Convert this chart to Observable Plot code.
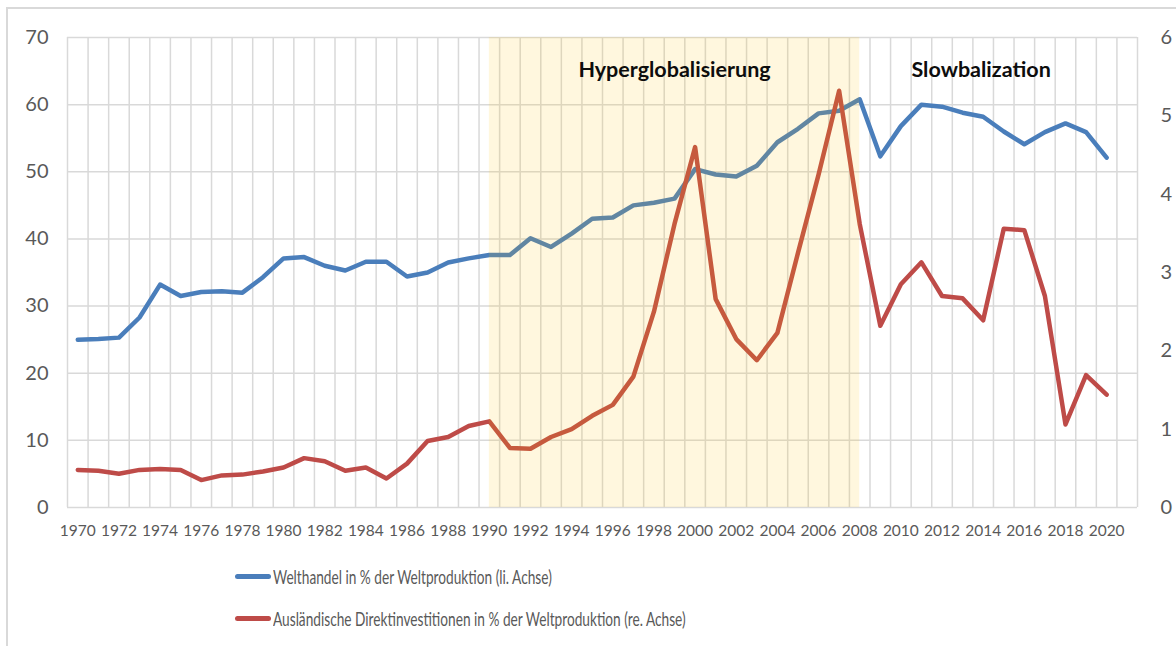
<!DOCTYPE html>
<html>
<head>
<meta charset="utf-8">
<script src="https://cdn.jsdelivr.net/npm/d3@7"></script>
<script src="https://cdn.jsdelivr.net/npm/@observablehq/plot@0.6"></script>
<style>
  html, body { margin: 0; padding: 0; background: #fff; }
  body { width: 1176px; height: 646px; position: relative; overflow: hidden; font-family: Lato, "Open Sans", sans-serif; }
  #frame { position: absolute; left: 6px; top: 7px; width: 1200px; height: 700px; border: 2px solid #d9d9d9; box-sizing: border-box; }
  #chart { position: absolute; left: 0; top: 0; }
  .legend { position: absolute; left: 235px; font-family: Lato, "Liberation Sans", sans-serif; font-size: 19px; color: #595959; display: flex; align-items: center; white-space: nowrap; }
  .legend .sw { width: 36px; height: 5px; border-radius: 3px; margin-right: 2px; flex: none; }
  .legend .tx { display: inline-block; transform: scaleX(0.72); transform-origin: left center; }
</style>
</head>
<body>
<div id="frame"></div>
<div id="chart"></div>
<div class="legend" style="top:565px"><span class="sw" style="background:#4a7ebb"></span><span class="tx">Welthandel in % der Weltproduktion (li. Achse)</span></div>
<div class="legend" style="top:607px"><span class="sw" style="background:#be4b48"></span><span class="tx">Ausländische Direktinvestitionen in % der Weltproduktion (re. Achse)</span></div>
<script>
// Categories
const years = [1970,1971,1972,1973,1974,1975,1976,1977,1978,1979,
  1980,1981,1982,1983,1984,1985,1986,1987,1988,1989,
  1990,1991,1992,1993,1994,1995,1996,1997,1998,1999,
  2000,2001,2002,2003,2004,2005,2006,2007,2008,2009,
  2010,2011,2012,2013,2014,2015,2016,2017,2018,2019,2020];

// Welthandel in % der Weltproduktion (left axis)
const welthandel = [25.0,25.1,25.3,28.3,33.2,31.5,32.1,32.2,32.0,34.3,
  37.1,37.3,36.0,35.3,36.6,36.6,34.4,35.0,36.5,37.1,
  37.6,37.6,40.1,38.8,40.8,43.0,43.2,45.0,45.4,46.0,
  50.4,49.6,49.3,50.9,54.4,56.4,58.7,59.1,60.8,52.3,
  56.8,60.0,59.7,58.8,58.2,56.0,54.1,55.9,57.2,55.9,52.1];

// Ausländische Direktinvestitionen in % der Weltproduktion (right axis)
const fdi = [0.48,0.47,0.43,0.48,0.49,0.48,0.35,0.41,0.42,0.46,
  0.51,0.63,0.59,0.47,0.51,0.37,0.56,0.85,0.90,1.04,
  1.10,0.76,0.75,0.90,1.00,1.17,1.31,1.67,2.50,3.62,
  4.60,2.66,2.15,1.88,2.23,3.25,4.25,5.32,3.62,2.32,
  2.85,3.13,2.70,2.67,2.39,3.56,3.54,2.70,1.06,1.69,1.44];

// Axis ticks
const leftTicks = [0,10,20,30,40,50,60,70];
const rightTicks = [0,1,2,3,4,5,6];
const xTickLabels = [1970,1972,1974,1976,1978,1980,1982,1984,1986,1988,1990,1992,1994,1996,1998,2000,2002,2004,2006,2008,2010,2012,2014,2016,2018,2020];

// Periods
const periodLabels = ["Hyperglobalisierung", "Slowbalization"];
const periodLabelYears = [1999, 2013.9];
const shadeStart = [1990];
const shadeEnd = [2008];

const leftMax = 70, rightMax = 6;
const k = leftMax / rightMax;

const tradeRows = years.map((yr, i) => ({year: yr, value: welthandel[i]}));
const fdiRows = years.map((yr, i) => ({year: yr, value: fdi[i] * k}));
const shadeRows = shadeStart.map((s, i) => ({x1: s, x2: shadeEnd[i]}));
const labelRows = periodLabels.map((t, i) => ({text: t, year: periodLabelYears[i]}));
const vGrid = d3.range(1969.5, 2022, 1);

const chart = Plot.plot({
  width: 1176,
  height: 545,
  marginLeft: 67,
  marginRight: 39,
  marginTop: 37,
  marginBottom: 38,
  style: {fontFamily: "Lato, sans-serif", background: "transparent"},
  x: {domain: [1969.5, 2021.5]},
  y: {domain: [0, leftMax]},
  marks: [
    Plot.ruleY(leftTicks, {stroke: "#d9d9d9", strokeWidth: 1.5}),
    Plot.ruleX(vGrid, {stroke: "#d9d9d9", strokeWidth: 1.5}),
    Plot.axisX(xTickLabels, {tickSize: 0, tickPadding: 17, tickFormat: d => String(d), fontSize: 15.5, fill: "#595959", label: null}),
    Plot.axisY(leftTicks, {anchor: "left", tickSize: 0, tickPadding: 19, fontSize: 20, fill: "#595959", label: null}),
    Plot.axisY(rightTicks.map(v => v * k), {anchor: "right", tickSize: 0, tickPadding: 23, fontSize: 20, fill: "#595959", label: null, tickFormat: d => String(Math.round(d / k))}),
    Plot.line(tradeRows, {x: "year", y: "value", stroke: "#4a7ebb", strokeWidth: 4.5, strokeLinejoin: "round", strokeLinecap: "round"}),
    Plot.line(fdiRows, {x: "year", y: "value", stroke: "#be4b48", strokeWidth: 4.5, strokeLinejoin: "round", strokeLinecap: "round"}),
    Plot.rect(shadeRows, {x1: "x1", x2: "x2", y1: 0, y2: leftMax, fill: "#ffc000", fillOpacity: 0.13}),
    Plot.text(labelRows, {x: "year", y: 65.2, text: "text", fontSize: 21.5, fontWeight: "bold", fill: "#0d0d0d", fontFamily: "Lato, sans-serif"})
  ]
});
document.getElementById("chart").appendChild(chart);
</script>
</body>
</html>
